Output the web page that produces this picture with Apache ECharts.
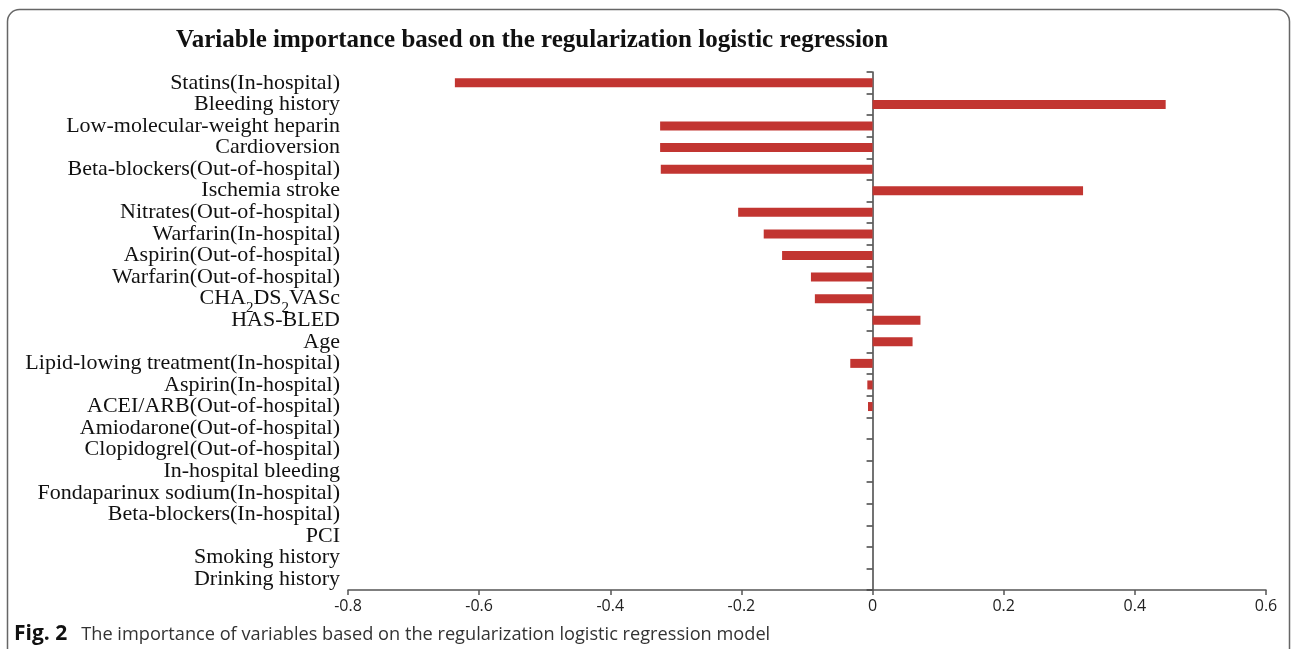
<!DOCTYPE html>
<html>
<head>
<meta charset="utf-8">
<script src="https://cdn.jsdelivr.net/npm/echarts@6/dist/echarts.min.js"></script>
<style>
  html, body { margin: 0; padding: 0; background: #fff; }
  #chart { width: 1292px; height: 649px; }
</style>
</head>
<body>
<div id="chart"></div>
<script>
// Variables, top to bottom
const variables = [
  'Statins(In-hospital)',
  'Bleeding history',
  'Low-molecular-weight heparin',
  'Cardioversion',
  'Beta-blockers(Out-of-hospital)',
  'Ischemia stroke',
  'Nitrates(Out-of-hospital)',
  'Warfarin(In-hospital)',
  'Aspirin(Out-of-hospital)',
  'Warfarin(Out-of-hospital)',
  'CHA2DS2VASc',
  'HAS-BLED',
  'Age',
  'Lipid-lowing treatment(In-hospital)',
  'Aspirin(In-hospital)',
  'ACEI/ARB(Out-of-hospital)',
  'Amiodarone(Out-of-hospital)',
  'Clopidogrel(Out-of-hospital)',
  'In-hospital bleeding',
  'Fondaparinux sodium(In-hospital)',
  'Beta-blockers(In-hospital)',
  'PCI',
  'Smoking history',
  'Drinking history'
];

// Regularized coefficients
const coefficients = [
  -0.637, 0.447, -0.324, -0.324, -0.323, 0.321, -0.205, -0.166,
  -0.138, -0.094, -0.088, 0.073, 0.061, -0.034, -0.008, -0.007,
  0, 0, 0, 0, 0, 0, 0, 0
];

const xTicks = { min: -0.8, max: 0.6, step: 0.2 };

const chart = echarts.init(document.getElementById('chart'));

const serif = '"Liberation Serif", "Times New Roman", serif';
const sans = '"Open Sans", "Noto Sans", sans-serif';

chart.setOption({
  animation: false,
  backgroundColor: '#fff',
  title: {
    text: 'Variable importance based on the regularization logistic regression',
    left: 171,
    top: 23,
    textStyle: { fontFamily: serif, fontSize: 25, fontWeight: 'bold', color: '#111' }
  },
  grid: { left: 348, right: 26, top: 72, bottom: 59, containLabel: false },
  xAxis: {
    type: 'value',
    min: xTicks.min,
    max: xTicks.max,
    interval: xTicks.step,
    splitLine: { show: false },
    axisLine: { show: true, onZero: false, lineStyle: { color: '#555', width: 1.5 } },
    axisTick: { show: true, length: 5, lineStyle: { color: '#555', width: 1.5 } },
    axisLabel: {
      fontFamily: sans, fontSize: 16, color: '#222', margin: 8,
      formatter: v => (Math.round(v * 10) / 10).toString()
    }
  },
  yAxis: [
    {
      type: 'category',
      data: variables,
      inverse: true,
      position: 'left',
      axisLine: { show: false, onZero: false },
      axisTick: { show: false },
      axisLabel: {
        interval: 0,
        fontFamily: serif, fontSize: 22, color: '#111', margin: 8,
        formatter: v => v === 'CHA2DS2VASc' ? 'CHA{sub|2}DS{sub|2}VASc' : v,
        rich: {
          sub: { fontFamily: serif, fontSize: 15, color: '#111', padding: [18, 0, 0, 0] }
        }
      }
    },
    {
      type: 'category',
      data: variables,
      inverse: true,
      position: 'left',
      axisLine: { show: true, onZero: true, lineStyle: { color: '#444', width: 1.5 } },
      axisTick: { show: true, inside: false, interval: 0, length: 6, lineStyle: { color: '#444', width: 1.5 } },
      axisLabel: { show: false }
    }
  ],
  series: [{
    type: 'bar',
    yAxisIndex: 0,
    data: coefficients,
    barWidth: 9,
    itemStyle: { color: '#c23531' }
  }],
  graphic: [
    {
      type: 'rect',
      shape: { x: 7.5, y: 9.5, width: 1282, height: 700, r: 12 },
      style: { fill: 'none', stroke: '#666', lineWidth: 1.5 },
      silent: true
    },
    {
      type: 'text',
      left: 14,
      top: 624,
      style: {
        text: '{b|Fig. 2}{r|The importance of variables based on the regularization logistic regression model}',
        rich: {
          b: { fontFamily: sans, fontSize: 21, fontWeight: 'bold', fill: '#111', padding: [0, 14, 0, 0] },
          r: { fontFamily: sans, fontSize: 18.2, fill: '#333' }
        }
      }
    }
  ]
});
</script>
</body>
</html>
